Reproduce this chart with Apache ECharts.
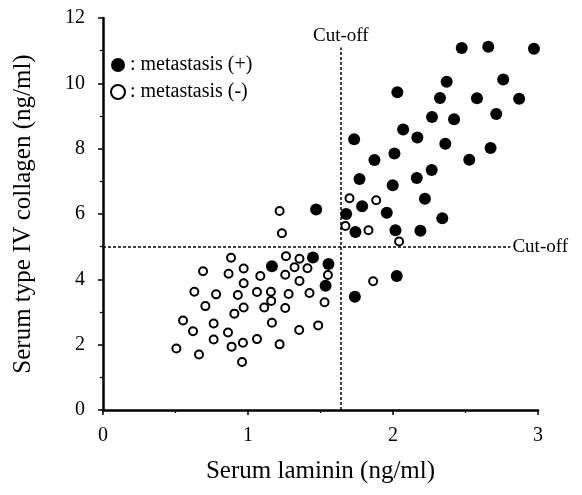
<!DOCTYPE html>
<html>
<head>
<meta charset="utf-8">
<style>html,body{margin:0;padding:0;background:#fff;}#c{width:582px;height:495px;}</style>
<script src="https://cdn.jsdelivr.net/npm/echarts@6/dist/echarts.min.js"></script>
</head>
<body>
<div id="c"></div>
<script>
// Serum laminin (x) and type IV collagen (y), ng/ml
const metPosX = [2.474,2.657,2.972,2.37,2.76,2.03,2.324,2.579,2.87,2.269,2.421,2.712,2.07,2.168,2.361,2.01,2.673,2.526,2.267,2.164,1.732,1.872,1.769,1.998,1.787,1.957,1.677,2.22,1.47,2.34,1.741,2.017,2.189,1.448,1.555,1.165,1.535,2.026,1.737];
const metPosY = [11.08,11.12,11.06,10.05,10.12,9.73,9.55,9.54,9.53,8.97,8.90,9.06,8.59,8.34,8.15,7.85,8.02,7.66,7.35,7.10,8.29,7.65,7.07,6.88,6.24,6.04,6.0,6.47,6.14,5.87,5.45,5.50,5.49,4.67,4.47,4.40,3.80,4.10,3.47];
const metNegX = [1.218,1.234,0.883,1.262,1.355,1.321,1.41,0.69,0.866,0.97,1.085,1.257,1.551,0.97,1.355,0.63,0.78,0.93,1.062,1.158,1.28,1.424,1.16,0.706,0.97,1.112,1.257,1.528,0.906,0.552,0.763,1.165,1.484,0.621,0.862,1.353,0.763,1.062,0.887,0.965,1.218,0.506,0.662,0.959,1.70,1.884,1.672,1.831,2.042,1.863];
const metNegY = [6.09,5.41,4.66,4.71,4.63,4.37,4.34,4.25,4.17,4.33,4.10,4.14,4.13,3.88,3.95,3.62,3.54,3.52,3.61,3.62,3.55,3.58,3.34,3.18,3.14,3.14,3.12,3.30,2.95,2.74,2.65,2.67,2.59,2.41,2.37,2.45,2.16,2.17,1.94,2.06,2.01,1.88,1.70,1.47,6.48,6.42,5.63,5.50,5.16,3.94];
const cutoffLaminin = 1.64;
const cutoffCollagen = 5;
const cutoffVerticalTop = 11.1;
const cutoffHorizontalEnd = 2.81;
const xTicks = [0, 1, 2, 3];
const yTicks = [0, 2, 4, 6, 8, 10, 12];
const seriesNames = ['metastasis (+)', 'metastasis (-)'];

const FONT = 'Liberation Serif';
const zip = (a, b) => a.map((v, i) => [v, b[i]]);

const chart = echarts.init(document.getElementById('c'), null, {renderer: 'canvas'});
chart.setOption({
  animation: false,
  backgroundColor: '#fff',
  textStyle: {fontFamily: FONT, color: '#000'},
  grid: {left: 103, right: 44, top: 18, bottom: 85, containLabel: false},
  legend: {
    orient: 'vertical', left: 105, top: 50, itemGap: 7,
    itemWidth: 14, itemHeight: 14,
    data: seriesNames,
    formatter: n => ': ' + n,
    textStyle: {fontFamily: FONT, fontSize: 20, color: '#000'}
  },
  xAxis: {
    type: 'value', min: xTicks[0], max: xTicks[xTicks.length - 1], interval: 1,
    name: 'Serum laminin (ng/ml)', nameLocation: 'middle', nameGap: 49,
    nameTextStyle: {fontFamily: FONT, fontSize: 25, color: '#000'},
    axisLine: {onZero: false, lineStyle: {color: '#000', width: 2.5}},
    axisTick: {show: true, length: 5, lineStyle: {color: '#000', width: 1.5}},
    minorTick: {show: true, splitNumber: 2, length: 3, lineStyle: {color: '#000', width: 1.2}},
    axisLabel: {fontFamily: FONT, fontSize: 20, color: '#000', margin: 16},
    splitLine: {show: false}
  },
  yAxis: {
    type: 'value', min: yTicks[0], max: yTicks[yTicks.length - 1], interval: 2,
    name: 'Serum type IV collagen (ng/ml)', nameLocation: 'middle', nameGap: 67, nameRotate: 90,
    nameTextStyle: {fontFamily: FONT, fontSize: 25, color: '#000'},
    axisLine: {onZero: false, lineStyle: {color: '#000', width: 2.5}},
    axisTick: {show: true, length: 5, lineStyle: {color: '#000', width: 1.5}},
    minorTick: {show: true, splitNumber: 2, length: 3, lineStyle: {color: '#000', width: 1.2}},
    axisLabel: {fontFamily: FONT, fontSize: 20, color: '#000', margin: 18},
    splitLine: {show: false}
  },
  series: [
    {
      name: seriesNames[0], type: 'scatter', symbol: 'circle', symbolSize: 12,
      itemStyle: {color: '#000', opacity: 1},
      data: zip(metPosX, metPosY),
      z: 3,
      markLine: {
        silent: true, symbol: ['none', 'none'], animation: false,
        lineStyle: {color: '#000', type: [3, 2], width: 1.5},
        label: {show: true, formatter: 'Cut-off', fontFamily: FONT, fontSize: 19, color: '#000', distance: 2},
        data: [
          [{coord: [cutoffLaminin, 0]}, {coord: [cutoffLaminin, cutoffVerticalTop]}],
          [{coord: [0, cutoffCollagen]}, {coord: [cutoffHorizontalEnd, cutoffCollagen]}]
        ]
      }
    },
    {
      name: seriesNames[1], type: 'scatter', symbol: 'circle', symbolSize: 8,
      itemStyle: {color: '#fff', borderColor: '#000', borderWidth: 2, opacity: 1},
      data: zip(metNegX, metNegY),
      z: 4
    }
  ]
});
</script>
</body>
</html>
